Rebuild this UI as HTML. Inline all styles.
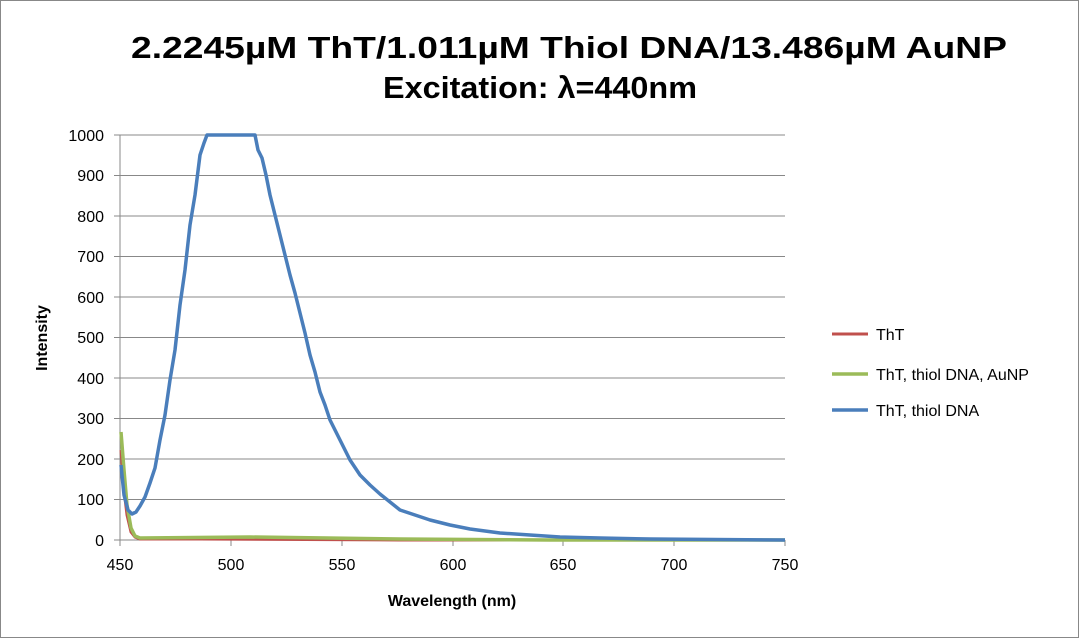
<!DOCTYPE html>
<html><head><meta charset="utf-8"><style>
body{margin:0;background:#fff;}
svg text{font-family:"Liberation Sans",Arial,sans-serif;}
</style></head><body>
<svg width="1079" height="638" viewBox="0 0 1079 638" xmlns="http://www.w3.org/2000/svg">
<rect x="0.5" y="0.5" width="1078" height="637" fill="#fff" stroke="#888"/>
<text x="131" y="58" font-size="31" font-weight="bold" textLength="876" lengthAdjust="spacingAndGlyphs">2.2245µM ThT/1.011µM Thiol DNA/13.486µM AuNP</text>
<text x="383" y="98" font-size="31" font-weight="bold" textLength="314" lengthAdjust="spacingAndGlyphs">Excitation: λ=440nm</text>
<g stroke="#888" stroke-width="1">
<line x1="114" y1="135" x2="785" y2="135"/><line x1="114" y1="175.5" x2="785" y2="175.5"/>
<line x1="114" y1="216" x2="785" y2="216"/><line x1="114" y1="256.5" x2="785" y2="256.5"/>
<line x1="114" y1="297" x2="785" y2="297"/><line x1="114" y1="337.5" x2="785" y2="337.5"/>
<line x1="114" y1="378" x2="785" y2="378"/><line x1="114" y1="418.5" x2="785" y2="418.5"/>
<line x1="114" y1="459" x2="785" y2="459"/><line x1="114" y1="499.5" x2="785" y2="499.5"/>
<line x1="114" y1="540" x2="785" y2="540"/>
<line x1="120" y1="135" x2="120" y2="546"/>
<line x1="231" y1="540" x2="231" y2="546"/><line x1="342" y1="540" x2="342" y2="546"/>
<line x1="453" y1="540" x2="453" y2="546"/><line x1="563" y1="540" x2="563" y2="546"/>
<line x1="674" y1="540" x2="674" y2="546"/><line x1="785" y1="540" x2="785" y2="546"/>
</g>
<g font-size="16" text-anchor="end">
<text x="104" y="141">1000</text><text x="104" y="181">900</text><text x="104" y="222">800</text>
<text x="104" y="262">700</text><text x="104" y="303">600</text><text x="104" y="343">500</text>
<text x="104" y="384">400</text><text x="104" y="424">300</text><text x="104" y="465">200</text>
<text x="104" y="505">100</text><text x="104" y="546">0</text>
</g>
<g font-size="16" text-anchor="middle">
<text x="120" y="570">450</text><text x="231" y="570">500</text><text x="342" y="570">550</text>
<text x="453" y="570">600</text><text x="563" y="570">650</text><text x="674" y="570">700</text><text x="785" y="570">750</text>
</g>
<text x="452" y="606" text-anchor="middle" font-size="16" font-weight="bold">Wavelength (nm)</text>
<text transform="translate(47,338) rotate(-90)" text-anchor="middle" font-size="16" font-weight="bold">Intensity</text>
<polyline fill="none" stroke="#c0504d" stroke-width="3" points="121,450 124,490 127,515 131,532 135,537 140,539 200,539 400,540 785,540"/>
<polyline fill="none" stroke="#9bbb59" stroke-width="3.5" points="121,432 124,470 127,505 131,528 135,536 140,538 250,537 400,539 550,540 785,540"/>
<polyline fill="none" stroke="#4a7ebb" stroke-width="3.5" stroke-linejoin="round" points="121,465 124,495 128,510 132,514 136,512 140,506 145,497 150,483 155,468 160,440 165,415 170,380 175,350 180,305 185,270 190,225 195,195 200,155 204,143 207,135 255,135 258,150 262,158 266,175 270,195 275,215 280,235 285,255 290,275 295,293 300,313 305,333 310,355 315,372 320,392 325,405 330,420 335,430 340,440 345,450 350,460 360,475 370,485 380,494 390,502 400,510 415,515 430,520 450,525 470,529 500,533 530,535 560,537 600,538 650,539 785,540"/>
<line x1="832" y1="334" x2="868" y2="334" stroke="#c0504d" stroke-width="3"/>
<text x="876" y="340" font-size="16">ThT</text>
<line x1="832" y1="374" x2="868" y2="374" stroke="#9bbb59" stroke-width="3.5"/>
<text x="876" y="380" font-size="16">ThT, thiol DNA, AuNP</text>
<line x1="832" y1="410" x2="868" y2="410" stroke="#4a7ebb" stroke-width="3.5"/>
<text x="876" y="416" font-size="16">ThT, thiol DNA</text>
</svg>
</body></html>
